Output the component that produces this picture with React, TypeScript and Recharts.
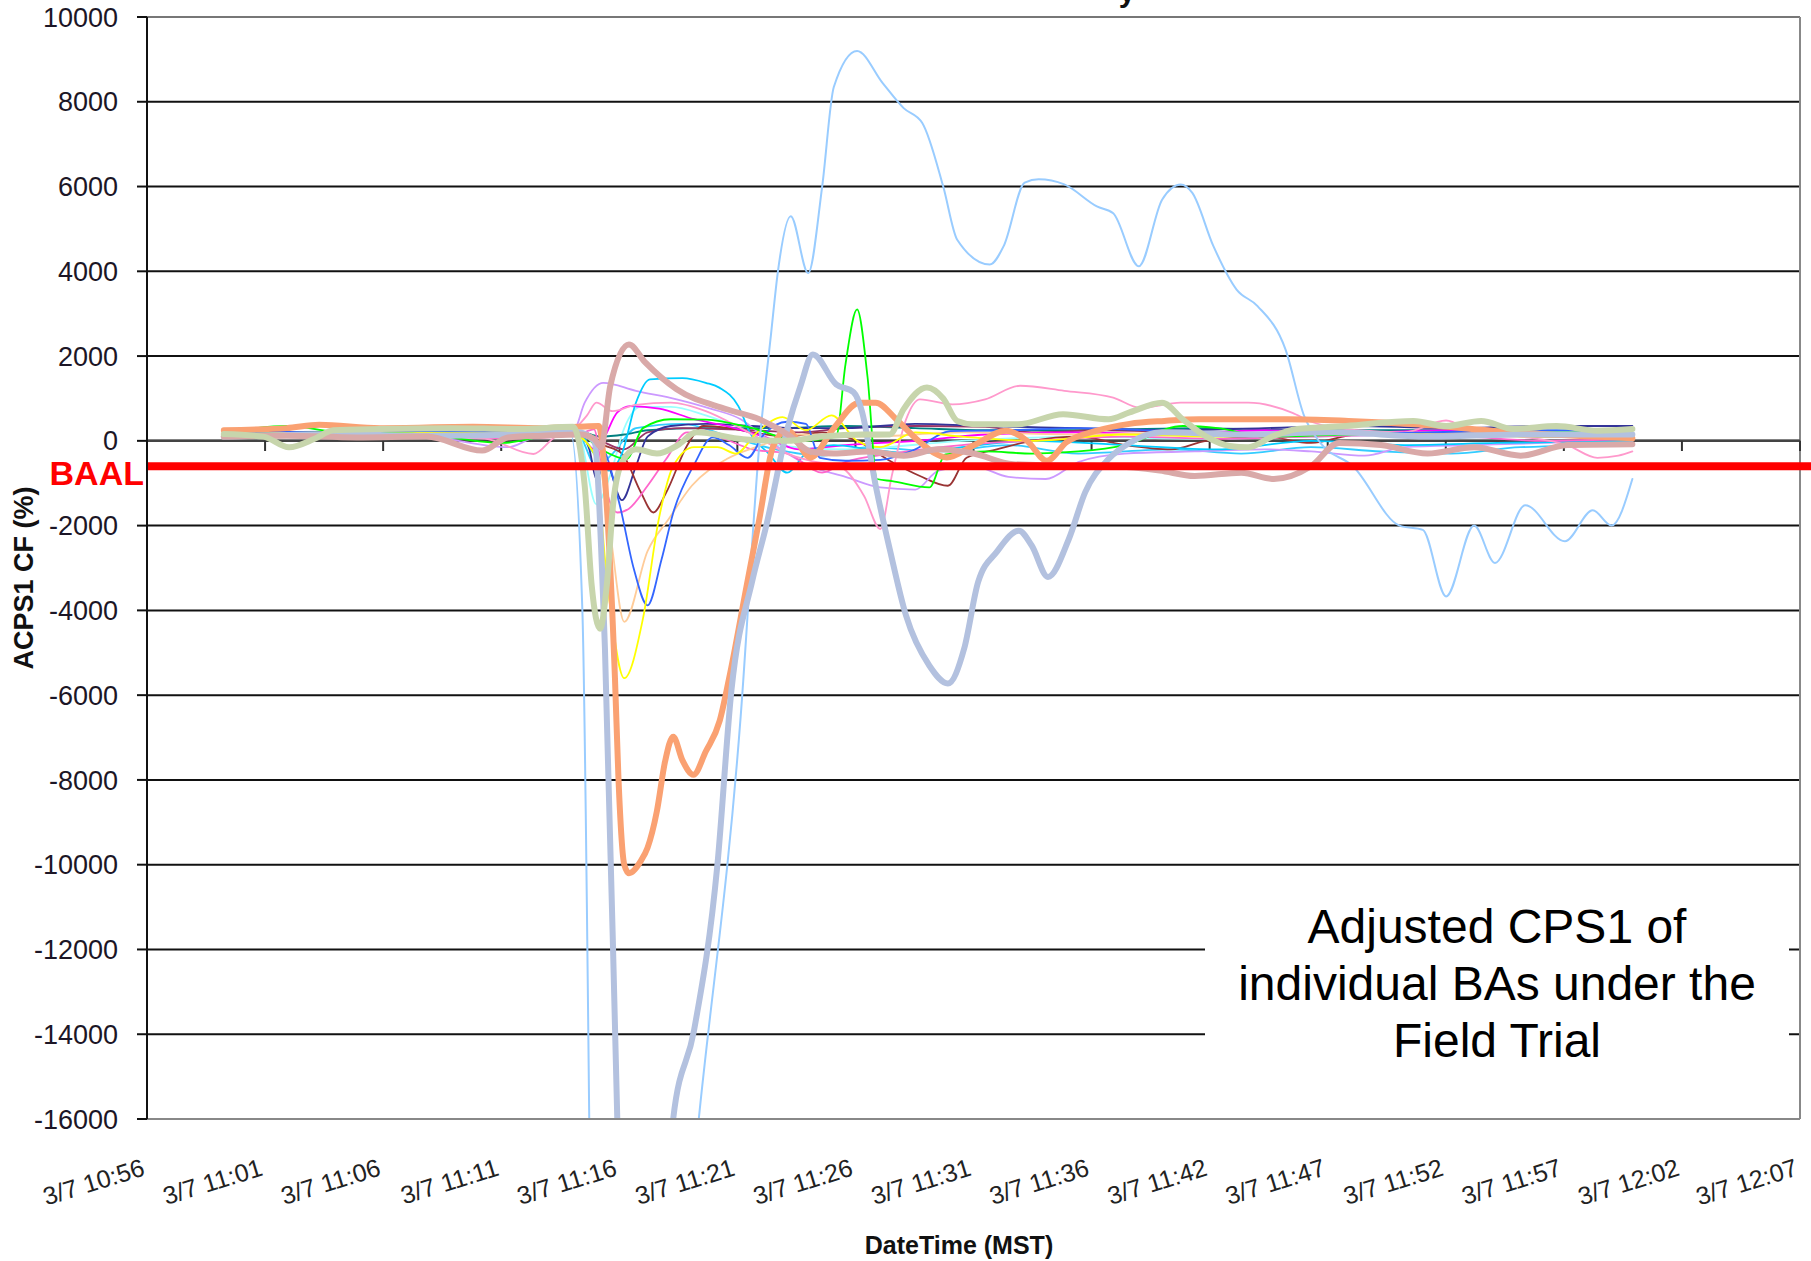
import React from 'react';
import { LineChart, Line, XAxis, YAxis, CartesianGrid, ReferenceLine, Label } from 'recharts';

// x values are minutes after 3/7 10:56 (MST)
const xTickLabels = [
  '3/7 10:56', '3/7 11:01', '3/7 11:06', '3/7 11:11', '3/7 11:16', '3/7 11:21', '3/7 11:26',
  '3/7 11:31', '3/7 11:36', '3/7 11:42', '3/7 11:47', '3/7 11:52', '3/7 11:57', '3/7 12:02', '3/7 12:07',
];
const X_SPAN_MIN = 71;
const xTicks = xTickLabels.map((_, i) => (i * X_SPAN_MIN) / (xTickLabels.length - 1));
const yTicks = [10000, 8000, 6000, 4000, 2000, 0, -2000, -4000, -6000, -8000, -10000, -12000, -14000, -16000];
const BAAL = -600;

type P = [number, number];

const lightBlue: P[] = [[3.3,150],[6,100],[8,180],[12,100],[16,120],[18.2,150],[18.7,-4000],[19.3,-26000],[21.9,-26000],[23.7,-16000],[25.5,-6500],[26.3,-100],[26.8,2500],[27.1,4000],[27.65,5300],[28.4,3960],[29.0,6000],[29.5,8350],[30.5,9200],[31.6,8440],[32.5,7850],[33.3,7500],[34.2,6000],[34.8,4745],[36.2,4160],[36.8,4600],[37.7,6090],[38.3,6170],[39.4,6050],[40.8,5530],[41.5,5370],[42.6,4120],[43.6,5690],[44.4,6050],[44.9,5850],[45.8,4600],[46.8,3570],[47.7,3180],[48.9,2160],[49.7,590],[50.4,-50],[51.8,-600],[53.8,-2000],[54.8,-2100],[55.8,-3670],[57,-2000],[57.9,-2880],[59.2,-1520],[60.9,-2370],[62.1,-1640],[62.9,-2000],[63.8,-900]];

const lavenderThick: P[] = [[3.3,100],[8,150],[12,120],[16,150],[18.5,200],[19.2,0],[19.67,-4900],[20.2,-16000],[20.6,-24000],[22.2,-24000],[22.6,-16000],[23.5,-13900],[24.5,-10000],[25.1,-5900],[26.0,-3300],[26.6,-2000],[27.5,275],[28.07,1295],[28.6,2040],[29.6,1334],[30.35,1145],[30.7,710],[31.3,-1060],[31.9,-2550],[32.6,-4120],[33.6,-5300],[34.4,-5725],[35.1,-4900],[35.7,-3330],[36.5,-2620],[37.45,-2120],[38.0,-2470],[38.7,-3210],[39.6,-2310],[40.3,-1210],[41.3,-430],[42.2,-50],[43.6,200],[47,150],[51,200],[55,100],[59,150],[63.8,150]];

const orangeThick: P[] = [[3.3,250],[6,300],[7.4,380],[10,300],[14,330],[17,300],[18.5,330],[19.4,350],[19.8,-2000],[20.1,-5600],[20.25,-7960],[20.5,-10000],[20.7,-10200],[21.2,-9920],[21.5,-9600],[21.9,-8740],[22.25,-7570],[22.6,-6980],[23.0,-7540],[23.47,-7880],[24.0,-7330],[24.6,-6600],[25.0,-5610],[25.76,-3410],[26.3,-1850],[26.9,-120],[27.5,250],[28.5,-390],[29.5,300],[30.6,900],[31.3,900],[32.2,500],[33.2,-30],[34.35,-390],[35.5,-110],[36.9,240],[37.8,0],[38.65,-470],[39.5,-30],[40.8,240],[42.2,400],[43.7,470],[45.2,510],[49,510],[51.6,470],[54.5,390],[58.7,200],[63.8,60]];

const roseThick: P[] = [[3.3,100],[6,120],[9,80],[12,100],[14.4,-230],[15.5,80],[17,120],[18.6,150],[19.2,50],[19.5,-150],[19.9,1300],[20.7,2275],[21.4,1850],[22.75,1216],[24.9,746],[26.3,510],[27.6,120],[28.5,-250],[29.5,-300],[31,-250],[32.5,-350],[34,-200],[35.5,-300],[37.2,-550],[39,-580],[41.5,-600],[43.5,-700],[45,-830],[47,-750],[48.4,-900],[50,-600],[51.2,-50],[53,-100],[55,-300],[57,-150],[59,-350],[61,-100],[63.8,-80]];

const sageThick: P[] = [[3.3,160],[5,100],[6.1,-150],[7.2,50],[8,250],[10,280],[13,300],[16,280],[18.3,330],[18.8,-1060],[19.1,-3410],[19.46,-4432],[19.75,-3400],[20.03,-1450],[20.4,-510],[21.0,-200],[21.9,-300],[22.8,-100],[23.6,200],[25.6,40],[27.5,0],[29,100],[30.7,150],[31.9,150],[32.5,750],[33.5,1260],[34.2,1000],[34.8,470],[35.5,390],[37.4,390],[39.35,630],[41.3,510],[42.2,670],[43.6,900],[44.5,500],[45.5,100],[46.5,-120],[47.3,-150],[48.4,120],[49.4,280],[51.5,350],[54.4,470],[55.8,350],[57.3,470],[58.7,280],[60.55,350],[62.3,240],[63.8,280]];

const green: P[] = [[3.3,200],[6.1,350],[8,220],[12,150],[15.3,-50],[17,100],[18.5,180],[19.5,-200],[20.6,-430],[21.3,300],[22.5,510],[24,500],[26,300],[28,0],[29.6,100],[30.0,1800],[30.5,3100],[30.95,1500],[31.35,-900],[32,-950],[33.6,-1100],[34.3,-320],[36,-250],[38,-300],[40,-250],[42,-100],[44.5,350],[46,300],[48,100],[52,150],[56,100],[60,200],[63.8,200]];

const yellow: P[] = [[3.3,150],[8,200],[14,180],[18.3,150],[19.2,-300],[19.8,-3500],[20.5,-5600],[21.3,-4200],[22,-1800],[22.6,-600],[23.5,-150],[24.5,-150],[25.3,-300],[26.2,200],[27.3,560],[28.3,250],[29.4,600],[30.5,0],[31.5,-150],[33,200],[35,100],[38,0],[42,150],[46,100],[50,200],[55,150],[60,100],[63.8,150]];

const blue: P[] = [[3.3,200],[10,220],[18.3,200],[19.5,-100],[20.3,-1500],[20.9,-3000],[21.5,-3880],[22.1,-2800],[22.6,-1700],[23.5,-560],[24.3,80],[25,-100],[25.8,-400],[26.5,150],[27.5,450],[28.3,400],[28.9,-400],[30,-470],[31.5,-450],[33,-200],[34.5,230],[37,250],[40,300],[45,200],[50,150],[55,200],[60,250],[63.8,200]];

const peach: P[] = [[3.3,150],[10,180],[16,150],[18.5,200],[19.3,-200],[19.9,-2200],[20.5,-4270],[21.5,-2600],[22.4,-1850],[23.4,-1060],[24.9,-430],[26.3,-120],[28,150],[31,100],[35,200],[40,150],[45,200],[50,150],[55,200],[60,150],[63.8,150]];

const darkRed: P[] = [[3.3,150],[10,200],[16,150],[18.5,180],[19.6,-100],[20.4,-300],[21.2,-1200],[21.75,-1690],[22.3,-1220],[23.2,-110],[23.9,350],[25,300],[26,200],[27.5,100],[29,200],[30.5,0],[32,-500],[33.2,-830],[34.4,-1060],[35.2,-400],[36.5,-200],[38,0],[40,100],[42,-100],[44,-200],[45.5,0],[48,100],[50,-50],[52,150],[55,100],[58,200],[63.8,150]];

const navy: P[] = [[3.3,150],[10,200],[16,150],[18.5,200],[19.0,-200],[19.3,-900],[19.7,-500],[20.4,-1400],[21.0,-600],[21.5,100],[22.5,350],[24,400],[26,350],[28,300],[30,300],[33,400],[36,350],[40,300],[44,250],[48,300],[52,350],[56,300],[60,350],[63.8,350]];

const lightPink: P[] = [[3.3,100],[8,130],[12,100],[14.5,50],[16.6,-310],[17.5,80],[18.4,300],[18.9,600],[19.3,900],[20,700],[21,850],[22.5,900],[24,700],[25.5,300],[26.5,0],[27.5,-300],[28.5,-470],[29.8,-620],[30.8,-1300],[31.5,-2080],[32.0,-800],[32.6,500],[33.2,980],[34.6,860],[36.0,980],[37.5,1300],[39.4,1180],[41.5,1020],[42.65,780],[44.4,900],[47.3,900],[49.2,660],[50,450],[52,250],[54,200],[55.8,480],[57,200],[59,100],[61,-100],[62.3,-400],[63.2,-350],[63.8,-250]];

const hotPink: P[] = [[3.3,80],[10,100],[16,60],[18.5,150],[19.2,270],[19.6,-900],[20.2,-1690],[20.7,-1600],[21.5,-1060],[22.3,-430],[23.2,200],[24.5,100],[26,-200],[27.5,-300],[29,-750],[30,-500],[32,-300],[35,-100],[38,0],[42,100],[46,50],[50,100],[55,150],[60,0],[63.8,50]];

const cyan: P[] = [[3.3,150],[10,180],[16,150],[18.5,200],[19.2,-300],[19.8,-700],[20.4,-300],[21.0,900],[21.6,1450],[23,1480],[24.0,1370],[24.6,1250],[25.4,820],[25.9,190],[26.7,-300],[27.5,-750],[28.3,-300],[29.5,-100],[31,-200],[33,-300],[35,-150],[38,0],[42,-100],[46,-200],[50,0],[54,-100],[58,-50],[63.8,0]];

const lilac: P[] = [[3.3,120],[8,150],[12,100],[15.5,-150],[16.5,50],[18.3,200],[18.8,900],[19.6,1370],[21,1180],[22.75,980],[24.2,760],[25.5,510],[26.5,100],[27.5,-300],[28.5,-600],[30,-850],[31.5,-1100],[33,-1150],[34,-700],[35.5,-600],[37,-850],[38.6,-900],[40,-500],[42,-300],[45,-250],[48,-200],[50,-250],[52.3,-350],[54,-150],[57,-100],[60,-50],[63.8,0]];

const magenta: P[] = [[3.3,100],[10,150],[16,120],[18.5,200],[19.2,-200],[19.6,40],[20.2,670],[20.75,820],[22,760],[23.5,510],[24.9,350],[26.5,100],[28,-200],[30,-100],[33,0],[36,150],[40,200],[44,150],[48,250],[52,200],[56,250],[60,200],[63.8,150]];

const teal: P[] = [[3.3,180],[10,200],[16,200],[18.5,230],[19.5,100],[20.5,150],[21.5,250],[24,300],[27,300],[30,350],[33,300],[36,250],[40,250],[45,300],[50,250],[55,250],[60,300],[63.8,250]];

const lightCyan: P[] = [[3.3,150],[12,170],[18.5,200],[19.3,-1500],[19.9,-800],[20.5,300],[21.2,800],[22.5,800],[24,600],[25.5,300],[27,-100],[30,-200],[35,0],[40,100],[45,50],[50,100],[55,150],[60,100],[63.8,100]];

const plum: P[] = [[3.3,200],[12,220],[18.5,230],[19.5,0],[20.5,-200],[21.5,200],[23,300],[26,250],[28,200],[30,300],[33,350],[36,330],[38,200],[41,250],[45,200],[50,150],[55,200],[60,100],[63.8,150]];

const skyBlue: P[] = [[3.3,120],[10,150],[16,100],[18.5,150],[19.3,-600],[20,-300],[21,300],[23,400],[25,100],[27,-200],[29,-350],[31,-150],[34,-250],[37,-100],[40,-300],[44,-200],[47,-300],[50,-150],[53,-250],[56,-300],[59,-150],[63.8,-100]];

const seriesList = [
  { key: 'skyBlue', pts: skyBlue, color: '#33CCFF', w: 1.8 },
  { key: 'lightCyan', pts: lightCyan, color: '#99FFFF', w: 1.8 },
  { key: 'teal', pts: teal, color: '#008080', w: 1.8 },
  { key: 'plum', pts: plum, color: '#993366', w: 1.8 },
  { key: 'navy', pts: navy, color: '#333399', w: 1.8 },
  { key: 'darkRed', pts: darkRed, color: '#993333', w: 1.8 },
  { key: 'magenta', pts: magenta, color: '#FF00FF', w: 1.8 },
  { key: 'lilac', pts: lilac, color: '#CC99FF', w: 1.8 },
  { key: 'cyan', pts: cyan, color: '#00CCFF', w: 1.8 },
  { key: 'hotPink', pts: hotPink, color: '#FF66CC', w: 1.8 },
  { key: 'lightPink', pts: lightPink, color: '#FF99CC', w: 1.8 },
  { key: 'peach', pts: peach, color: '#FFCC99', w: 1.8 },
  { key: 'blue', pts: blue, color: '#3366FF', w: 1.8 },
  { key: 'yellow', pts: yellow, color: '#FFFF00', w: 1.8 },
  { key: 'green', pts: green, color: '#00FF00', w: 1.8 },
  { key: 'lightBlue', pts: lightBlue, color: '#99CCFF', w: 2 },
  { key: 'orangeThick', pts: orangeThick, color: '#FAA172', w: 6 },
  { key: 'lavenderThick', pts: lavenderThick, color: '#B3C1DF', w: 6 },
  { key: 'roseThick', pts: roseThick, color: '#D9A9A8', w: 6 },
  { key: 'sageThick', pts: sageThick, color: '#C7D5AC', w: 6 },
];

const FONT = '"Liberation Sans", Arial, sans-serif';

const XTick = (props: any) => {
  const { x, y, index } = props;
  const label = xTickLabels[index] ?? '';
  const bx = x - 1;
  const by = y + 56;
  return (
    <text x={bx} y={by} textAnchor="end" fontSize={25} fill="#222" fontFamily={FONT}
      transform={`rotate(-17, ${bx}, ${by})`}>
      {label}
    </text>
  );
};

export default function App() {
  return (
    <div style={{ position: 'absolute', left: 0, top: 0, width: 1811, height: 1261, background: '#fff', fontFamily: FONT, overflow: 'hidden' }}>
      <LineChart width={1811} height={1261} margin={{ top: 17, right: 11, bottom: 0, left: 0 }}>
        <CartesianGrid horizontal vertical={false} stroke="#111" strokeWidth={2} strokeOpacity={1} />
        <XAxis dataKey="t" type="number" domain={[0, X_SPAN_MIN]} ticks={xTicks} allowDataOverflow
          height={142} tickLine={false} tickSize={0} tickMargin={0} interval={0}
          axisLine={{ stroke: '#888', strokeWidth: 2 }} tick={<XTick />}>
          <Label content={() => (
            <text x={959} y={1254} textAnchor="middle" fontSize={25} fontWeight="bold" fill="#111" fontFamily={FONT}>DateTime (MST)</text>
          )} />
        </XAxis>
        <YAxis type="number" domain={[-16000, 10000]} ticks={yTicks} allowDataOverflow width={147}
          interval={0} tickSize={10} tickMargin={19}
          axisLine={{ stroke: '#111', strokeWidth: 2 }} tickLine={{ stroke: '#111', strokeWidth: 2 }}
          tick={{ fontSize: 27, fill: '#1c1626', fontFamily: FONT }}>
          <Label content={() => (
            <text x={33} y={578} textAnchor="middle" fontSize={27} fontWeight="bold" fill="#111" fontFamily={FONT}
              transform="rotate(-90, 33, 578)">ACPS1 CF (%)</text>
          )} />
        </YAxis>
        <ReferenceLine y={10000} stroke="#777" strokeWidth={2} />
        <ReferenceLine x={X_SPAN_MIN} stroke="#888" strokeWidth={2} />
        <ReferenceLine y={0} stroke="#444" strokeWidth={2.5} />
        {xTicks.map((t) => (
          <ReferenceLine key={'zt' + t} segment={[{ x: t, y: 0 }, { x: t, y: -240 }]} stroke="#333" strokeWidth={2} ifOverflow="visible" />
        ))}
        {seriesList.map((s) => (
          <Line key={s.key} data={s.pts.map(([t, v]) => ({ t, v }))} dataKey="v" type="monotone"
            stroke={s.color} strokeWidth={s.w} dot={false} activeDot={false} isAnimationActive={false}
            strokeLinejoin="round" strokeLinecap="round" />
        ))}
        <ReferenceLine y={BAAL} ifOverflow="visible"
          shape={(p: any) => <line x1={p.x1} y1={p.y1} x2={p.x2 + 11} y2={p.y2} stroke="#FF0000" strokeWidth={8} />}>
          <Label value="BAAL" position="left" offset={3} dy={7} fill="#FF0000" fontSize={34} fontWeight="bold" fontFamily={FONT} />
        </ReferenceLine>
      </LineChart>
      <svg width={1811} height={24} style={{ position: 'absolute', left: 0, top: 0 }}>
        <text x={1127} y={2} textAnchor="middle" fontSize={30} fontWeight="bold" fill="#111" fontFamily={FONT}>y</text>
      </svg>
      <div style={{
        position: 'absolute', left: 1205, top: 885, width: 584, height: 200, background: '#fff',
        display: 'flex', alignItems: 'center', justifyContent: 'center', textAlign: 'center',
        fontSize: 48, lineHeight: '57px', color: '#000', fontFamily: FONT,
      }}>
        <div style={{ marginTop: -4 }}>Adjusted CPS1 of<br />individual BAs under the<br />Field Trial</div>
      </div>
    </div>
  );
}
